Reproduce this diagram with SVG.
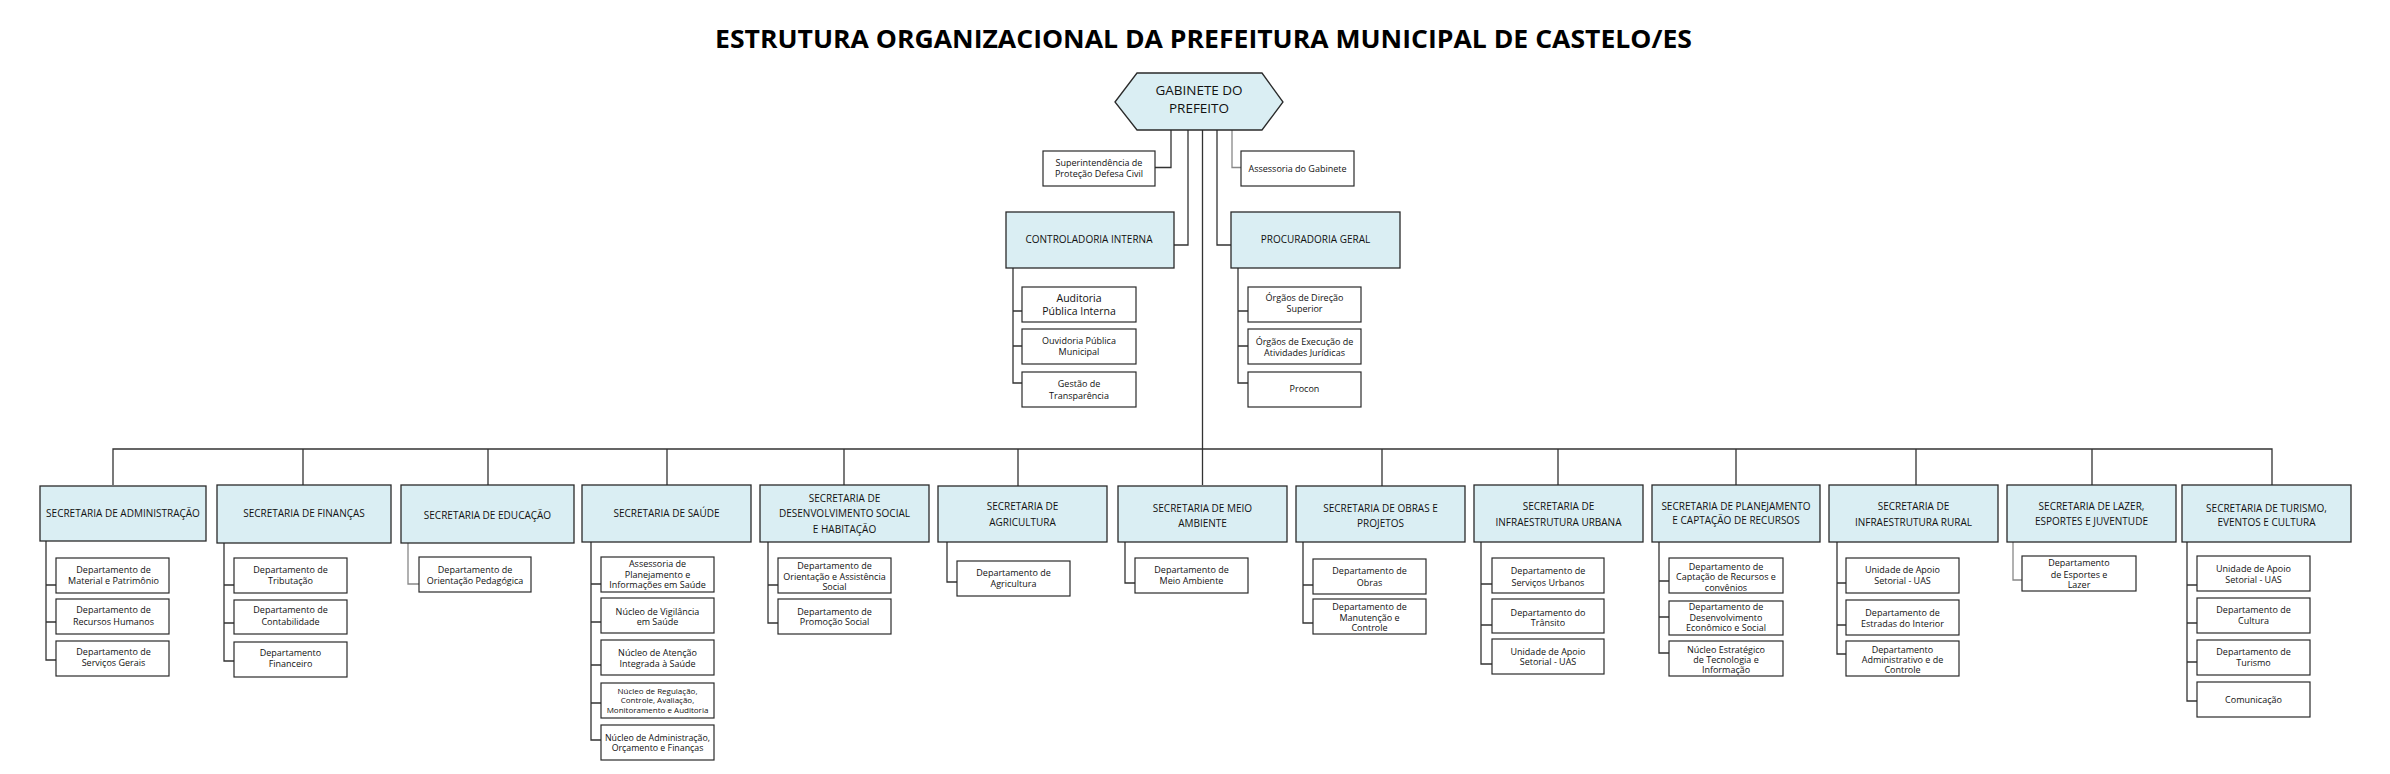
<svg xmlns="http://www.w3.org/2000/svg" width="2390" height="774" viewBox="0 0 2390 774">
<style>
.hdr{fill:#DAEEF3;stroke:#2a2a2a;stroke-width:1.3}
.sub{fill:#ffffff;stroke:#2a2a2a;stroke-width:1.2}
.ln{fill:none;stroke:#333;stroke-width:1.3}
.lg{fill:none;stroke:#888;stroke-width:1.3}
text{font-family:"Open Sans","Noto Sans","DejaVu Sans",sans-serif;fill:#111;text-anchor:middle}
.h{font-size:10px}
.s{font-size:9px}
.xs{font-size:8px}
.title{font-size:25.5px;font-weight:bold;fill:#000}
.gab{font-size:13.5px}
</style>
<rect width="2390" height="774" fill="#ffffff"/>
<text class="title" x="1203.5" y="47.5" textLength="977" lengthAdjust="spacingAndGlyphs">ESTRUTURA ORGANIZACIONAL DA PREFEITURA MUNICIPAL DE CASTELO/ES</text>

<g id="connectors">
<path class="ln" d="M1171,130 V167.5 H1155"/>
<path class="ln" d="M1188,130 V245 H1174"/>
<path class="ln" d="M1202.5,130 V485"/>
<path class="ln" d="M1217,130 V245 H1231"/>
<path class="lg" d="M1232,130 V167.5 H1241"/>
<path class="ln" d="M1013,268 V383 H1022 M1013,311 H1022 M1013,346 H1022"/>
<path class="ln" d="M1238,268 V383 H1248 M1238,311 H1248 M1238,346 H1248"/>
<path class="ln" d="M113,485 V449 H2272 V485"/>
<path class="ln" d="M303,449 V485 M488,449 V485 M667,449 V485 M844,449 V485 M1018,449 V486 M1382,449 V486 M1558,449 V485 M1736,449 V485 M1916,449 V485 M2092,449 V485"/>
<path class="ln" d="M46,541 V660 H56 M46,585 H56 M46,622 H56"/>
<path class="ln" d="M224,543 V661 H234 M224,585 H234 M224,623 H234"/>
<path class="lg" d="M408,543 V584 H419"/>
<path class="ln" d="M591,542 V740 H601 M591,584 H601 M591,622 H601 M591,665 H601 M591,703 H601"/>
<path class="ln" d="M768,542 V623 H778 M768,585 H778"/>
<path class="ln" d="M947,542 V582 H957"/>
<path class="ln" d="M1125,542 V583 H1135"/>
<path class="ln" d="M1303,542 V623 H1313 M1303,585 H1313"/>
<path class="ln" d="M1481,542 V664 H1492 M1481,584 H1492 M1481,625 H1492"/>
<path class="ln" d="M1659,542 V653 H1669 M1659,581 H1669 M1659,617 H1669"/>
<path class="ln" d="M1837,542 V654 H1846 M1837,583 H1846 M1837,625 H1846"/>
<path class="lg" d="M2013,542 V580 H2022"/>
<path class="ln" d="M2187,542 V701 H2197 M2187,585 H2197 M2187,623 H2197 M2187,662 H2197"/>
</g>

<g id="gabinete">
<polygon class="hdr" points="1115,102 1137,73 1262,73 1283,102 1262,130 1137,130"/>
<text class="gab" x="1199" y="95">GABINETE DO</text>
<text class="gab" x="1199" y="113">PREFEITO</text>
</g>
<g id="superintendencia">
<rect class="sub" x="1043" y="151" width="112" height="35"/>
<text class="s" x="1099" y="166">Superintendência de</text>
<text class="s" x="1099" y="177">Proteção Defesa Civil</text>
</g>
<g id="assessoria">
<rect class="sub" x="1241" y="151" width="113" height="35"/>
<text class="s" x="1297.5" y="171.5">Assessoria do Gabinete</text>
</g>
<g id="controladoria">
<rect class="hdr" x="1006" y="212" width="168" height="56"/>
<text class="h" x="1089" y="243">CONTROLADORIA INTERNA</text>
</g>
<g id="procuradoria">
<rect class="hdr" x="1231" y="212" width="169" height="56"/>
<text class="h" x="1315.5" y="243">PROCURADORIA GERAL</text>
</g>
<g id="auditoria">
<rect class="sub" x="1022" y="287" width="114" height="35"/>
<text x="1079" y="302" style="font-size:10.5px">Auditoria</text>
<text x="1079" y="315" style="font-size:10.5px">Pública Interna</text>
</g>
<g id="ouvidoria">
<rect class="sub" x="1022" y="329" width="114" height="35"/>
<text class="s" x="1079" y="344">Ouvidoria Pública</text>
<text class="s" x="1079" y="355">Municipal</text>
</g>
<g id="gestao">
<rect class="sub" x="1022" y="372" width="114" height="35"/>
<text class="s" x="1079" y="387">Gestão de</text>
<text class="s" x="1079" y="399">Transparência</text>
</g>
<g id="orgaos-direcao">
<rect class="sub" x="1248" y="287" width="113" height="35"/>
<text class="s" x="1304.5" y="301">Órgãos de Direção</text>
<text class="s" x="1304.5" y="312">Superior</text>
</g>
<g id="orgaos-execucao">
<rect class="sub" x="1248" y="329" width="113" height="35"/>
<text class="s" x="1304.5" y="345">Órgãos de Execução de</text>
<text class="s" x="1304.5" y="356">Atividades Jurídicas</text>
</g>
<g id="procon">
<rect class="sub" x="1248" y="372" width="113" height="35"/>
<text class="s" x="1304.5" y="391.5">Procon</text>
</g>

<g id="sec-administracao">
<rect class="hdr" x="40" y="486" width="166" height="55"/>
<text class="h" x="123" y="517">SECRETARIA DE ADMINISTRAÇÃO</text>
</g>
<g id="adm-1"><rect class="sub" x="56" y="558" width="113" height="35"/>
<text class="s" x="113.5" y="572.5">Departamento de</text><text class="s" x="113.5" y="584">Material e Patrimônio</text></g>
<g id="adm-2"><rect class="sub" x="56" y="599" width="113" height="35"/>
<text class="s" x="113.5" y="613">Departamento de</text><text class="s" x="113.5" y="625">Recursos Humanos</text></g>
<g id="adm-3"><rect class="sub" x="56" y="641" width="113" height="35"/>
<text class="s" x="113.5" y="655">Departamento de</text><text class="s" x="113.5" y="666">Serviços Gerais</text></g>

<g id="sec-financas">
<rect class="hdr" x="217" y="485" width="174" height="58"/>
<text class="h" x="304" y="516.5">SECRETARIA DE FINANÇAS</text>
</g>
<g id="fin-1"><rect class="sub" x="234" y="558" width="113" height="35"/>
<text class="s" x="290.5" y="573">Departamento de</text><text class="s" x="290.5" y="584">Tributação</text></g>
<g id="fin-2"><rect class="sub" x="234" y="600" width="113" height="34"/>
<text class="s" x="290.5" y="613">Departamento de</text><text class="s" x="290.5" y="624.5">Contabilidade</text></g>
<g id="fin-3"><rect class="sub" x="234" y="642" width="113" height="35"/>
<text class="s" x="290.5" y="656">Departamento</text><text class="s" x="290.5" y="666.5">Financeiro</text></g>

<g id="sec-educacao">
<rect class="hdr" x="401" y="485" width="173" height="58"/>
<text class="h" x="487.5" y="518.5">SECRETARIA DE EDUCAÇÃO</text>
</g>
<g id="edu-1"><rect class="sub" x="419" y="557" width="112" height="35"/>
<text class="s" x="475" y="572.5">Departamento de</text><text class="s" x="475" y="583.5">Orientação Pedagógica</text></g>

<g id="sec-saude">
<rect class="hdr" x="582" y="485" width="169" height="57"/>
<text class="h" x="666.5" y="516.5">SECRETARIA DE SAÚDE</text>
</g>
<g id="sau-1"><rect class="sub" x="601" y="557" width="113" height="35"/>
<text class="s" x="657.5" y="567">Assessoria de</text><text class="s" x="657.5" y="577.5">Planejamento e</text><text class="s" x="657.5" y="588">Informações em Saúde</text></g>
<g id="sau-2"><rect class="sub" x="601" y="598" width="113" height="35"/>
<text class="s" x="657.5" y="615">Núcleo de Vigilância</text><text class="s" x="657.5" y="625">em Saúde</text></g>
<g id="sau-3"><rect class="sub" x="601" y="640" width="113" height="35"/>
<text class="s" x="657.5" y="656">Núcleo de Atenção</text><text class="s" x="657.5" y="667">Integrada à Saúde</text></g>
<g id="sau-4"><rect class="sub" x="601" y="683" width="113" height="35"/>
<text class="xs" x="657.5" y="693.5">Núcleo de Regulação,</text><text class="xs" x="657.5" y="703">Controle, Avaliação,</text><text class="xs" x="657.5" y="713">Monitoramento e Auditoria</text></g>
<g id="sau-5"><rect class="sub" x="601" y="725" width="113" height="35"/>
<text x="657.5" y="741" style="font-size:8.8px">Núcleo de Administração,</text><text x="657.5" y="751" style="font-size:8.8px">Orçamento e Finanças</text></g>

<g id="sec-desenvolvimento">
<rect class="hdr" x="760" y="485" width="169" height="57"/>
<text class="h" x="844.5" y="501.5">SECRETARIA DE</text>
<text class="h" x="844.5" y="517">DESENVOLVIMENTO SOCIAL</text>
<text class="h" x="844.5" y="532.5">E HABITAÇÃO</text>
</g>
<g id="des-1"><rect class="sub" x="778" y="558" width="113" height="35"/>
<text class="s" x="834.5" y="569">Departamento de</text><text class="s" x="834.5" y="579.5">Orientação e Assistência</text><text class="s" x="834.5" y="589.5">Social</text></g>
<g id="des-2"><rect class="sub" x="778" y="599" width="113" height="35"/>
<text class="s" x="834.5" y="615">Departamento de</text><text class="s" x="834.5" y="625">Promoção Social</text></g>

<g id="sec-agricultura">
<rect class="hdr" x="938" y="486" width="169" height="56"/>
<text class="h" x="1022.5" y="509.5">SECRETARIA DE</text>
<text class="h" x="1022.5" y="525.5">AGRICULTURA</text>
</g>
<g id="agr-1"><rect class="sub" x="957" y="561" width="113" height="35"/>
<text class="s" x="1013.5" y="576">Departamento de</text><text class="s" x="1013.5" y="586.5">Agricultura</text></g>

<g id="sec-meio-ambiente">
<rect class="hdr" x="1118" y="486" width="169" height="56"/>
<text class="h" x="1202.5" y="511.5">SECRETARIA DE MEIO</text>
<text class="h" x="1202.5" y="526.5">AMBIENTE</text>
</g>
<g id="mei-1"><rect class="sub" x="1135" y="558" width="113" height="35"/>
<text class="s" x="1191.5" y="572.5">Departamento de</text><text class="s" x="1191.5" y="584">Meio Ambiente</text></g>

<g id="sec-obras">
<rect class="hdr" x="1296" y="486" width="169" height="56"/>
<text class="h" x="1380.5" y="511.5">SECRETARIA DE OBRAS E</text>
<text class="h" x="1380.5" y="526.5">PROJETOS</text>
</g>
<g id="obr-1"><rect class="sub" x="1313" y="559" width="113" height="35"/>
<text class="s" x="1369.5" y="574">Departamento de</text><text class="s" x="1369.5" y="585.5">Obras</text></g>
<g id="obr-2"><rect class="sub" x="1313" y="599" width="113" height="35"/>
<text class="s" x="1369.5" y="610">Departamento de</text><text class="s" x="1369.5" y="620.5">Manutenção e</text><text class="s" x="1369.5" y="631">Controle</text></g>

<g id="sec-infra-urbana">
<rect class="hdr" x="1474" y="485" width="169" height="57"/>
<text class="h" x="1558.5" y="509.5">SECRETARIA DE</text>
<text class="h" x="1558.5" y="525.5">INFRAESTRUTURA URBANA</text>
</g>
<g id="iu-1"><rect class="sub" x="1492" y="558" width="112" height="35"/>
<text class="s" x="1548" y="574">Departamento de</text><text class="s" x="1548" y="585.5">Serviços Urbanos</text></g>
<g id="iu-2"><rect class="sub" x="1492" y="599" width="112" height="34"/>
<text class="s" x="1548" y="616">Departamento do</text><text class="s" x="1548" y="626">Trânsito</text></g>
<g id="iu-3"><rect class="sub" x="1492" y="639" width="112" height="35"/>
<text class="s" x="1548" y="655">Unidade de Apoio</text><text class="s" x="1548" y="665">Setorial - UAS</text></g>

<g id="sec-planejamento">
<rect class="hdr" x="1652" y="485" width="168" height="57"/>
<text class="h" x="1736" y="510">SECRETARIA DE PLANEJAMENTO</text>
<text class="h" x="1736" y="524">E CAPTAÇÃO DE RECURSOS</text>
</g>
<g id="pl-1"><rect class="sub" x="1669" y="558" width="114" height="35"/>
<text class="s" x="1726" y="570">Departamento de</text><text class="s" x="1726" y="580">Captação de Recursos e</text><text class="s" x="1726" y="590.5">convênios</text></g>
<g id="pl-2"><rect class="sub" x="1669" y="601" width="114" height="34"/>
<text class="s" x="1726" y="610">Departamento de</text><text class="s" x="1726" y="620.5">Desenvolvimento</text><text class="s" x="1726" y="631">Econômico e Social</text></g>
<g id="pl-3"><rect class="sub" x="1669" y="641" width="114" height="35"/>
<text class="s" x="1726" y="653">Núcleo Estratégico</text><text class="s" x="1726" y="663">de Tecnologia e</text><text class="s" x="1726" y="673">Informação</text></g>

<g id="sec-infra-rural">
<rect class="hdr" x="1829" y="485" width="169" height="57"/>
<text class="h" x="1913.5" y="510">SECRETARIA DE</text>
<text class="h" x="1913.5" y="526">INFRAESTRUTURA RURAL</text>
</g>
<g id="ir-1"><rect class="sub" x="1846" y="558" width="113" height="35"/>
<text class="s" x="1902.5" y="573">Unidade de Apoio</text><text class="s" x="1902.5" y="584">Setorial - UAS</text></g>
<g id="ir-2"><rect class="sub" x="1846" y="600" width="113" height="35"/>
<text class="s" x="1902.5" y="615.5">Departamento de</text><text class="s" x="1902.5" y="626.5">Estradas do Interior</text></g>
<g id="ir-3"><rect class="sub" x="1846" y="641" width="113" height="35"/>
<text class="s" x="1902.5" y="652.5">Departamento</text><text class="s" x="1902.5" y="662.5">Administrativo e de</text><text class="s" x="1902.5" y="672.5">Controle</text></g>

<g id="sec-lazer">
<rect class="hdr" x="2007" y="485" width="169" height="57"/>
<text class="h" x="2091.5" y="509.5">SECRETARIA DE LAZER,</text>
<text class="h" x="2091.5" y="525">ESPORTES E JUVENTUDE</text>
</g>
<g id="lz-1"><rect class="sub" x="2022" y="556" width="114" height="35"/>
<text class="s" x="2079" y="566">Departamento</text><text class="s" x="2079" y="577.5">de Esportes e</text><text class="s" x="2079" y="587.5">Lazer</text></g>

<g id="sec-turismo">
<rect class="hdr" x="2182" y="485" width="169" height="57"/>
<text class="h" x="2266.5" y="511.5">SECRETARIA DE TURISMO,</text>
<text class="h" x="2266.5" y="526">EVENTOS E CULTURA</text>
</g>
<g id="tu-1"><rect class="sub" x="2197" y="556" width="113" height="35"/>
<text class="s" x="2253.5" y="571.5">Unidade de Apoio</text><text class="s" x="2253.5" y="583">Setorial - UAS</text></g>
<g id="tu-2"><rect class="sub" x="2197" y="598" width="113" height="35"/>
<text class="s" x="2253.5" y="613">Departamento de</text><text class="s" x="2253.5" y="624">Cultura</text></g>
<g id="tu-3"><rect class="sub" x="2197" y="640" width="113" height="35"/>
<text class="s" x="2253.5" y="655">Departamento de</text><text class="s" x="2253.5" y="666">Turismo</text></g>
<g id="tu-4"><rect class="sub" x="2197" y="682" width="113" height="35"/>
<text class="s" x="2253.5" y="702.5">Comunicação</text></g>
</svg>
